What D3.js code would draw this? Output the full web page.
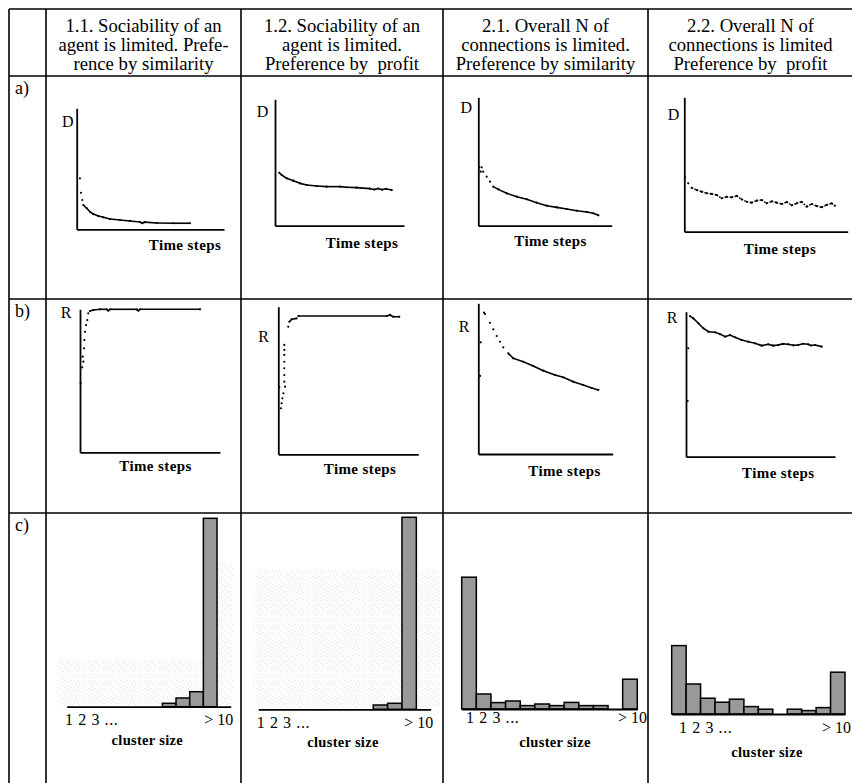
<!DOCTYPE html>
<html><head><meta charset="utf-8">
<script src="https://cdn.jsdelivr.net/npm/d3@7"></script>
<style>
body{margin:0;background:#fff;}
svg{display:block;}
text{font-family:"Liberation Serif","Times New Roman",serif;fill:#000;}
</style></head><body>
<svg id="c" width="852" height="783"></svg>
<script>
// ---------------- DATA ----------------
const columnTitles = [
  ["1.1. Sociability of an", "agent is limited. Prefe-", "rence by similarity"],
  ["1.2. Sociability of an", "agent is limited.", "Preference by  profit"],
  ["2.1. Overall N of", "connections is limited.", "Preference by similarity"],
  ["2.2. Overall N of", "connections is limited", "Preference by  profit"]
];
const rowLabels = ["a)", "b)", "c)"];
const timeLabel = "Time steps";
const clusterLabel = "cluster size";
const clusterTickLeft = "1 2 3 ...";
const clusterTickRight = "> 10";
const lineAxisLabels = ["D", "D", "D", "D", "R", "R", "R", "R"];

// D(t) series, [time %, value %] of axis length
const dSim1 = [[2.2,42.1],[2.9,30.2],[3.8,24.2],[4.5,20.1],[6.8,17.4],[9.0,14.5],[11.3,12.6],[14.7,11.0],[18.1,9.9],[22.6,8.5],[29.4,7.7],[36.2,6.9],[43.0,6.0],[44.5,5.0],[46,5.9],[54.3,5.2],[65.6,5.0],[76.9,5.0]];
const dProf1 = [[3.3,41.9],[5.2,40.1],[9.1,37.5],[14.2,35.6],[19.4,33.5],[24.6,32.2],[32.3,31.4],[40.1,30.9],[50.4,30.9],[55.6,30.4],[63.3,30.1],[73.6,29.3],[77,28.6],[80,29.4],[83,28.5],[86,29.2],[90.5,28.2]];
const dSim2 = [[0.7,45.5],[1.8,42.1],[2.5,45.5],[3.7,42.1],[6.3,38.2],[8.8,34.3],[11.2,30.4],[15.0,28.3],[21.3,25.2],[28.8,22.6],[36.3,20.6],[43.8,17.9],[51.3,15.6],[58.8,14.3],[66.3,13.0],[73.8,11.7],[81.3,10.7],[86.2,9.7],[90.0,8.1]];
const dProf2 = [[0.4,40.5],[2.4,36.0],[4.5,32.7],[7.6,31.0],[10.6,29.8],[13.7,28.6],[16.8,28.1],[19.8,27.3],[22.9,24.9],[25.9,26.0],[29.0,25.6],[32.1,26.6],[35.1,24.1],[38.2,22.3],[41.2,21.6],[44.3,23.1],[47.4,23.6],[50.4,21.1],[53.5,22.6],[56.5,21.6],[59.6,20.6],[62.7,22.1],[65.7,19.6],[68.8,21.1],[71.8,22.3],[74.9,18.6],[78.0,20.6],[81.0,19.1],[84.1,18.2],[87.1,19.9],[90.2,21.1],[92.2,19.3]];
// R(t) series
const rSim1 = [[0.5,48.3],[1.6,59.4],[2.4,63.4],[1.9,66.9],[2.9,72.7],[3.1,78.5],[3.6,84.3],[4.3,89.0],[5.2,92.5],[5.9,97.2],[7.1,98.8],[9.5,99.5],[14.3,100],[19.1,100],[20.2,99.0],[21.4,100],[40.5,100],[41.6,99.0],[42.9,100],[85.7,100]];
const rProf1 = [[0.7,45.4],[1.9,31.2],[2.4,34.6],[2.9,37.9],[3.6,41.3],[4.8,45.8],[4.3,49.2],[4.3,53.7],[4.3,58.3],[4.3,62.7],[4.3,67.3],[4.3,70.7],[4.3,74.1],[7.1,86.4],[7.9,89.8],[9.6,91.5],[13.1,92.1],[14.3,93.7],[77.4,93.7],[79.8,94.4],[82.1,93.2],[86.4,93.2]];
const rSim2 = [[1.3,51.8],[1.8,74.1],[4.2,93.8],[5.0,92.9],[8.7,87.1],[11.2,82.7],[13.7,78.3],[16.1,74.5],[18.6,70.8],[22.3,66.8],[26.0,63.5],[33.5,61.2],[40.9,58.4],[48.4,55.3],[57.1,52.4],[63.2,50.9],[70.7,48.0],[78.1,45.8],[84.4,43.8],[89.3,42.5]];
const rProf2 = [[1.1,38.4],[1.5,74.8],[2.7,97.0],[4.9,95.4],[8.3,92.0],[11.6,88.6],[15.0,86.2],[19.5,85.8],[22.8,84.6],[26.2,82.8],[29.5,83.9],[32.9,82.3],[37.4,80.5],[41.8,79.3],[46.3,78.2],[50.8,76.6],[55.2,77.5],[58.5,76.6],[61.9,77.0],[65,77.8],[68.6,77.5],[72,76.8],[75.3,77.0],[78.5,77.9],[82.0,77.5],[84,76.7],[86.6,77.0],[91.1,75.9]];

// cluster size histograms (12 slots along the axis)
const clusterSlots = ["1","2","3","4","5","6","7","8","9","10","11","12"];
const histSim1  = [0,0,0,0,0,0,0,1.7,4.35,7.5,94.2,0];
const histProf1 = [0,0,0,0,0,0,0,0,2.15,3.0,96.0,0];
const histSim2  = [65.9,7.5,3.2,4.0,1.7,2.5,1.7,3.3,1.7,1.7,0,14.9];
const histProf2 = [34.2,15.0,7.9,5.9,7.4,3.7,2.4,0,2.4,1.7,3.2,20.9];

// ---------------- LAYOUT ----------------
const svg = d3.select("#c");
const colX = [9, 46, 241, 443, 648, 853];
const rowY = [9, 76, 299, 513, 800];

// stipple pattern (scan texture)
const defs = svg.append("defs");
const pat = defs.append("pattern").attr("id","stip").attr("width",7).attr("height",7).attr("patternUnits","userSpaceOnUse");
[[1,1],[4,2],[2,4],[5,5],[0,6],[6,3]].forEach(p=>pat.append("rect").attr("x",p[0]).attr("y",p[1]).attr("width",1).attr("height",1).attr("fill","#d4d4d4"));
const stipAreas = [[57,660,146,45],[218,563,15,142],[253,570,187,137]];
svg.append("g").selectAll("rect").data(stipAreas).join("rect")
  .attr("x",d=>d[0]).attr("y",d=>d[1]).attr("width",d=>d[2]).attr("height",d=>d[3])
  .attr("fill","url(#stip)").attr("opacity",0.6);

// table grid
const grid = svg.append("g").attr("stroke","#000").attr("stroke-width",1.6);
colX.slice(0,5).forEach(x=>grid.append("line").attr("x1",x).attr("x2",x).attr("y1",rowY[0]).attr("y2",783));
rowY.slice(0,4).forEach(y=>grid.append("line").attr("x1",colX[0]).attr("x2",852).attr("y1",y).attr("y2",y));

// header
columnTitles.forEach((lines,i)=>{
  const cx = (colX[i+1]+colX[i+2])/2;
  lines.forEach((t,j)=>{
    svg.append("text").attr("x",cx).attr("y",31.5+j*19).attr("text-anchor","middle")
      .attr("font-size","18.7px").style("white-space","pre").text(t);
  });
});
rowLabels.forEach((t,i)=>{
  svg.append("text").attr("x",15).attr("y",rowY[i+1]+18).attr("font-size","18px").text(t);
});

// line charts
const lineCharts = [
  {data:dSim1,  x0:76.7, x1:224,   yb:229.3, yt:108.3, lx:67.9,  ly:127,   tx:185,   ty:250},
  {data:dProf1, x0:275,  x1:404,   yb:225.7, yt:99.3,  lx:262.5, ly:117,   tx:362,   ty:248},
  {data:dSim2,  x0:478.3,x1:611.7, yb:225.7, yt:97.3,  lx:466.2, ly:112.7, tx:550.5, ty:245.5},
  {data:dProf2, x0:684.3,x1:847.7, yb:231.7, yt:97.3,  lx:673.5, ly:120,   tx:780,   ty:254, dotted:true},
  {data:rSim1,  x0:80,   x1:220,   yb:452.3, yt:309.3, lx:66.2,  ly:318,   tx:155.5, ty:471},
  {data:rProf1, x0:278.3,x1:418.3, yb:454.3, yt:306.7, lx:263.5, ly:341.7, tx:360,   ty:474},
  {data:rSim2,  x0:478.3,x1:612.7, yb:454,   yt:303.3, lx:464,   ly:331.7, tx:564.5, ty:475.5},
  {data:rProf2, x0:686,  x1:835,   yb:456.7, yt:311.7, lx:672,   ly:323.3, tx:778.3, ty:477.5}
];

lineCharts.forEach((c,i)=>{
  const x = d3.scaleLinear().domain([0,100]).range([c.x0,c.x1]);
  const y = d3.scaleLinear().domain([0,100]).range([c.yb,c.yt]);
  const g = svg.append("g");
  g.append("g").attr("transform",`translate(0,${c.yb})`)
    .call(d3.axisBottom(x).ticks(0).tickSizeOuter(0))
    .call(s=>s.select(".domain").attr("stroke","#000").attr("stroke-width",1.8));
  g.append("g").attr("transform",`translate(${c.x0},0)`)
    .call(d3.axisLeft(y).ticks(0).tickSizeOuter(0))
    .call(s=>s.select(".domain").attr("stroke","#000").attr("stroke-width",1.8));
  const pts = c.data.map(d=>[x(d[0]),y(d[1])]);
  for(let k=1;k<pts.length;k++){
    const dx=Math.abs(pts[k][0]-pts[k-1][0]), dy=Math.abs(pts[k][1]-pts[k-1][1]);
    if(dx>0 && dy/dx<1.2){
      g.append("path").attr("d",d3.line()([pts[k-1],pts[k]])).attr("fill","none")
        .attr("stroke","#000").attr("stroke-width",1.6)
        .attr("stroke-dasharray",c.dotted?"1.6,1.4":null);
    }
  }
  g.selectAll("circle").data(c.data).join("circle")
    .attr("cx",d=>x(d[0])).attr("cy",d=>y(d[1])).attr("r",1.1).attr("fill","#000");
  g.append("text").attr("x",c.lx).attr("y",c.ly).attr("text-anchor","middle").attr("font-size","16px").text(lineAxisLabels[i]);
  g.append("text").attr("x",c.tx).attr("y",c.ty).attr("text-anchor","middle").attr("font-size","15px")
    .attr("font-weight","bold").attr("letter-spacing","0.4px").text(timeLabel);
});

// histograms
const histCharts = [
  {data:histSim1,  x0:66.7,  x1:230.7, base:706.7, lx:65,   ly:725, rx:233.3, rAnchor:"end",   cx:147.3, cy:745},
  {data:histProf1, x0:258.3, x1:430.7, base:709.3, lx:256.7,ly:728, rx:433.3, rAnchor:"end",   cx:343,   cy:747},
  {data:histSim2,  x0:461.7, x1:637.3, base:709,   lx:466,  ly:723, rx:618,   rAnchor:"start", cx:555,   cy:747},
  {data:histProf2, x0:671.7, x1:845,   base:714,   lx:679,  ly:733, rx:851,   rAnchor:"end",   cx:767,   cy:757}
];
histCharts.forEach(c=>{
  const x = d3.scaleBand().domain(clusterSlots).range([c.x0,c.x1]).padding(0);
  const y = d3.scaleLinear().domain([0,100]).range([c.base,c.base-200]);
  const g = svg.append("g");
  g.selectAll("rect").data(clusterSlots.map((s,k)=>({s,v:c.data[k]})).filter(d=>d.v>0)).join("rect")
    .attr("x",d=>x(d.s)).attr("width",x.bandwidth())
    .attr("y",d=>y(d.v)).attr("height",d=>c.base-y(d.v))
    .attr("fill","#999999").attr("stroke","#000").attr("stroke-width",1.5);
  g.append("g").attr("transform",`translate(0,${c.base})`)
    .call(d3.axisBottom(x).tickValues([]).tickSizeOuter(0))
    .call(s=>s.select(".domain").attr("stroke","#000").attr("stroke-width",1.8));
  g.append("text").attr("x",c.lx).attr("y",c.ly).attr("font-size","16px").attr("letter-spacing","0.6px").style("white-space","pre").text(clusterTickLeft);
  g.append("text").attr("x",c.rx).attr("y",c.ly).attr("text-anchor",c.rAnchor).attr("font-size","16px").text(clusterTickRight);
  g.append("text").attr("x",c.cx).attr("y",c.cy).attr("text-anchor","middle").attr("font-size","14.5px")
    .attr("font-weight","bold").attr("letter-spacing","0.3px").text(clusterLabel);
});
</script>
</body></html>
